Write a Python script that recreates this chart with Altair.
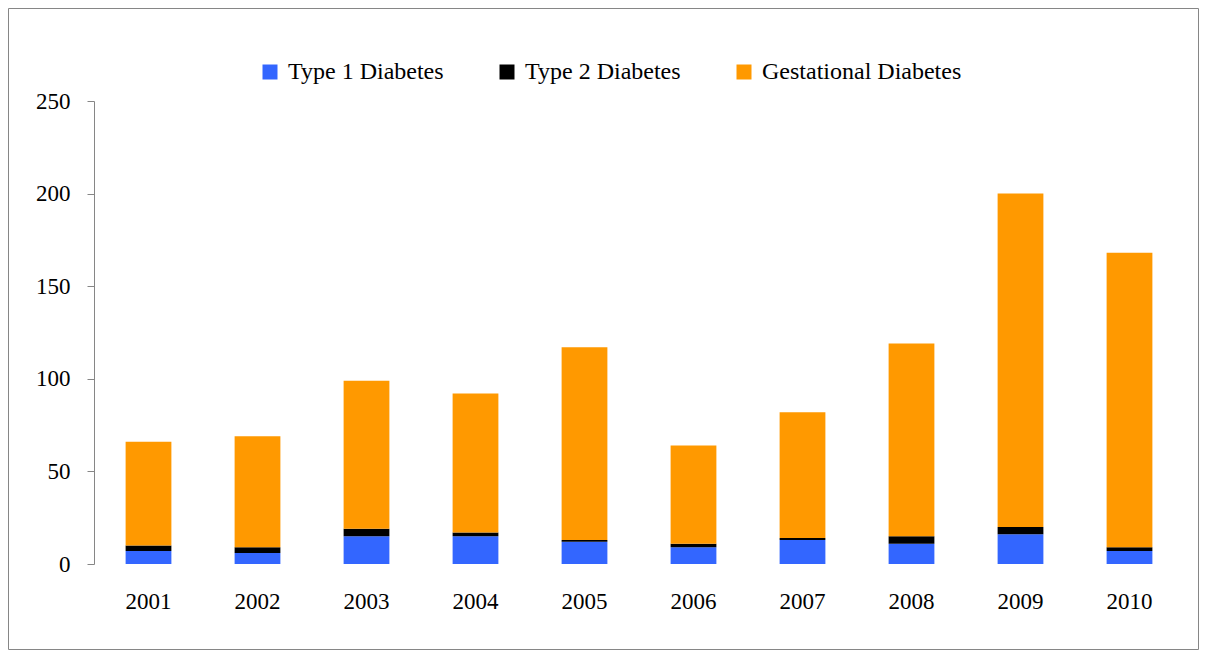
import altair as alt
import pandas as pd

years = ["2001", "2002", "2003", "2004", "2005", "2006", "2007", "2008", "2009", "2010"]
type1 = [7, 6, 15, 15, 12, 9, 13, 11, 16, 7]
type2 = [3, 3, 4, 2, 1, 2, 1, 4, 4, 2]
gestational = [56, 60, 80, 75, 104, 53, 68, 104, 180, 159]
series = ["Type 1 Diabetes", "Type 2 Diabetes", "Gestational Diabetes"]
colors = ["#3366FF", "#000000", "#FF9900"]

rows = []
for i, y in enumerate(years):
    for k, (name, vals) in enumerate(zip(series, [type1, type2, gestational])):
        rows.append({"Year": y, "Type": name, "Value": vals[i], "order": k})
df = pd.DataFrame(rows)

FONT = "Liberation Serif"
W, H = 1090, 463

bars = alt.Chart(df).mark_bar().encode(
    x=alt.X("Year:N", sort=years,
            scale=alt.Scale(paddingInner=0.58, paddingOuter=0.29),
            axis=alt.Axis(title=None, labelAngle=0, domain=False, ticks=False,
                          labelPadding=26, labelFontSize=23, labelFont=FONT,
                          labelColor="#000000")),
    y=alt.Y("Value:Q", stack="zero",
            scale=alt.Scale(domain=[0, 250]),
            axis=alt.Axis(title=None, values=[0, 50, 100, 150, 200, 250], grid=False,
                          domainColor="#868686", tickColor="#868686", tickSize=7,
                          labelPadding=17, labelFontSize=23, labelFont=FONT,
                          labelColor="#000000")),
    color=alt.Color("Type:N", sort=series,
                    scale=alt.Scale(domain=series, range=colors),
                    legend=alt.Legend(title=None, orient="none", direction="horizontal",
                                      legendX=164, legendY=-41, symbolType="square",
                                      symbolSize=225, symbolStrokeWidth=0,
                                      labelFontSize=24, labelFont=FONT, labelColor="#000000",
                                      labelLimit=0, labelOffset=6, columnPadding=51)),
    order=alt.Order("order:Q"),
)

frame = alt.Chart(pd.DataFrame({"a": [0]})).mark_rect(
    fill=None, stroke="#868686", strokeWidth=1
).encode(
    x=alt.value(-85.5), x2=alt.value(1104.5),
    y=alt.value(-92.5), y2=alt.value(548.5),
)

chart = alt.layer(bars, frame).properties(
    width=W, height=H,
    autosize=alt.AutoSizeParams(type="none"),
    padding={"left": 86, "top": 93, "right": 15, "bottom": 86},
).configure_view(stroke=None)

chart.save("out.html", embed_options={"renderer": "svg", "actions": False})
